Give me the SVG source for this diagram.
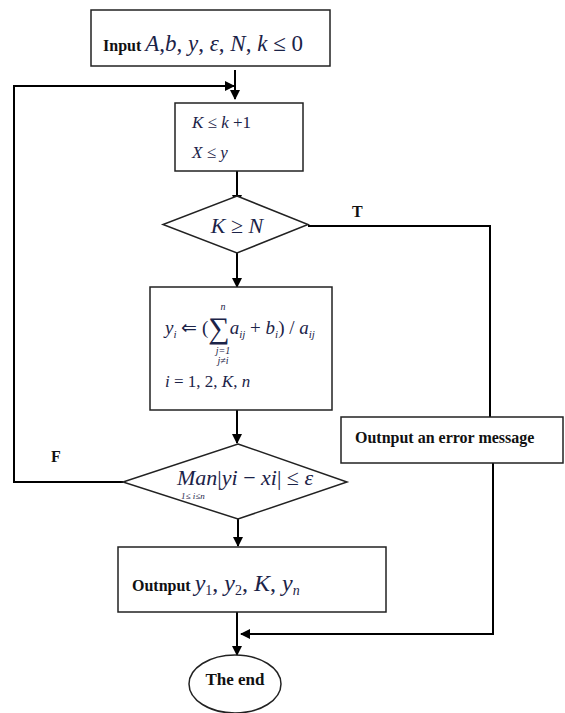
<svg xmlns="http://www.w3.org/2000/svg" width="565" height="713" viewBox="0 0 565 713">
<style>
.box{fill:#fff;stroke:#222;stroke-width:1.5}
.ln{fill:none;stroke:#000;stroke-width:2}
.b{font-family:"Liberation Serif",serif;font-weight:bold;fill:#111}
.m{font-family:"Liberation Serif",serif;font-style:italic;fill:#1b2348}
.r{font-family:"Liberation Serif",serif;fill:#1b2348}
</style>
<defs>
<marker id="ah" markerWidth="10" markerHeight="10" refX="9" refY="5" orient="auto" markerUnits="userSpaceOnUse">
<path d="M0,0 L10,5 L0,10 z" fill="#000"/>
</marker>
</defs>
<rect width="565" height="713" fill="#fff"/>
<g id="connectors">
<path class="ln" d="M235,70 V99" marker-end="url(#ah)"/>
<path class="ln" d="M123,482 H14 V86 H234" marker-end="url(#ah)"/>
<path class="ln" d="M237,171 V204" marker-end="url(#ah)"/>
<path class="ln" d="M308,226 H490 V417"/>
<path class="ln" d="M237,253 V287" marker-end="url(#ah)"/>
<path class="ln" d="M237,410 V443" marker-end="url(#ah)"/>
<path class="ln" d="M238,519 V546" marker-end="url(#ah)"/>
<path class="ln" d="M237,612 V655" marker-end="url(#ah)"/>
<path class="ln" d="M493,463 V634 H241" marker-end="url(#ah)"/>
<text class="b" x="352" y="217" font-size="16">T</text>
<text class="b" x="51" y="462" font-size="16">F</text>
</g>
<g id="input">
<rect class="box" x="91" y="10" width="239" height="56"/>
<text x="103" y="51"><tspan class="b" font-size="16">Input </tspan><tspan class="m" font-size="23">A</tspan><tspan class="r" font-size="23">,</tspan><tspan class="m" font-size="23">b</tspan><tspan class="r" font-size="23">, </tspan><tspan class="m" font-size="23">y</tspan><tspan class="r" font-size="23">, </tspan><tspan class="m" font-size="23">ε</tspan><tspan class="r" font-size="23">, </tspan><tspan class="m" font-size="23">N</tspan><tspan class="r" font-size="23">, </tspan><tspan class="m" font-size="23">k</tspan><tspan class="r" font-size="23"> ≤ 0</tspan></text>
</g>
<g id="init">
<rect class="box" x="175" y="103" width="128" height="68"/>
<text x="192" y="128" font-size="17"><tspan class="m">K</tspan><tspan class="r"> ≤ </tspan><tspan class="m">k</tspan><tspan class="r"> +1</tspan></text>
<text x="192" y="158" font-size="17"><tspan class="m">X</tspan><tspan class="r"> ≤ </tspan><tspan class="m">y</tspan></text>
</g>
<g id="check-k">
<polygon class="box" points="237,196 308,224.5 237,253 163,224.5"/>
<text x="237" y="233" font-size="22" text-anchor="middle"><tspan class="m">K</tspan><tspan class="r"> ≥ </tspan><tspan class="m">N</tspan></text>
</g>
<g id="update">
<rect class="box" x="150" y="287" width="182" height="123"/>
<text x="165" y="334" font-size="19"><tspan class="m">y</tspan><tspan class="m" font-size="11" dy="4">i</tspan><tspan class="r" dy="-4"> ⇐ (</tspan><tspan class="r" font-size="30" dy="4">∑</tspan><tspan class="m" dy="-4">a</tspan><tspan class="m" font-size="11" dy="4">ij</tspan><tspan class="r" dy="-4"> + </tspan><tspan class="m">b</tspan><tspan class="m" font-size="11" dy="4">i</tspan><tspan class="r" dy="-4">) / </tspan><tspan class="m">a</tspan><tspan class="m" font-size="11" dy="4">ij</tspan></text>
<text class="m" x="223" y="310" font-size="10" text-anchor="middle">n</text>
<text class="m" x="223" y="354" font-size="10" text-anchor="middle">j=1</text>
<text class="m" x="223" y="364" font-size="10" text-anchor="middle">j≠i</text>
<text x="165" y="387" font-size="17"><tspan class="m">i</tspan><tspan class="r"> = 1, 2, </tspan><tspan class="m">K</tspan><tspan class="r">, </tspan><tspan class="m">n</tspan></text>
</g>
<g id="check-conv">
<polygon class="box" points="238,444 347,482 238,519 123,482"/>
<text x="177" y="485" font-size="22"><tspan class="m">Man</tspan><tspan class="r">|</tspan><tspan class="m">yi</tspan><tspan class="r"> − </tspan><tspan class="m">xi</tspan><tspan class="r">| ≤ </tspan><tspan class="m">ε</tspan></text>
<text class="m" x="181" y="499" font-size="9">1≤ i≤n</text>
</g>
<g id="error">
<rect class="box" x="341" y="417" width="222" height="46"/>
<text class="b" x="355" y="443" font-size="16">Outnput an error message</text>
</g>
<g id="output">
<rect class="box" x="118" y="547" width="268" height="65"/>
<text x="132" y="591"><tspan class="b" font-size="16">Outnput </tspan><tspan class="m" font-size="24">y</tspan><tspan class="r" font-size="14" dy="4">1</tspan><tspan class="r" font-size="24" dy="-4">, </tspan><tspan class="m" font-size="24">y</tspan><tspan class="r" font-size="14" dy="4">2</tspan><tspan class="r" font-size="24" dy="-4">, </tspan><tspan class="m" font-size="24">K</tspan><tspan class="r" font-size="24">, </tspan><tspan class="m" font-size="24">y</tspan><tspan class="m" font-size="14" dy="4">n</tspan></text>
</g>
<g id="end">
<ellipse class="box" cx="235" cy="684" rx="46" ry="29"/>
<text class="b" x="235" y="685" font-size="17" text-anchor="middle">The end</text>
</g>
</svg>
